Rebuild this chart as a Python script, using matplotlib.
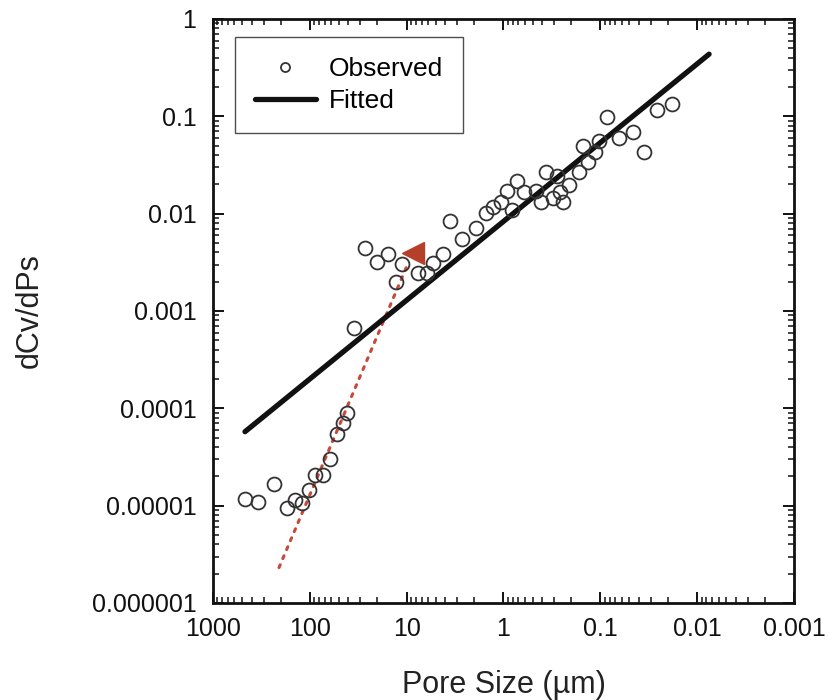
import matplotlib
matplotlib.use("Agg")
import matplotlib.pyplot as plt
from matplotlib.ticker import LogLocator, FixedLocator, FixedFormatter, NullFormatter

plt.rcParams['font.family'] = ['Liberation Sans', 'DejaVu Sans']

# Observed pore-size distribution (pore size in µm, dCv/dPs)
pore_size = [467, 343, 234, 172, 142, 120, 102, 88.3, 73.1, 61.8, 52.3, 45.4, 41.3,
             34.9, 26.9, 20.2, 15.6, 12.9, 11.2, 7.62, 6.15, 5.33, 4.21, 3.56, 2.68,
             1.92, 1.51, 1.28, 1.06, 0.918, 0.815, 0.724, 0.613, 0.460, 0.409, 0.363,
             0.307, 0.279, 0.260, 0.242, 0.210, 0.166, 0.151, 0.134, 0.113, 0.103,
             0.0851, 0.0640, 0.0458, 0.0353, 0.0259, 0.0181]
dcv_dps = [1.17e-5, 1.09e-5, 1.67e-5, 9.4e-6, 1.14e-5, 1.06e-5, 1.45e-5, 2.07e-5, 2.07e-5,
           3.03e-5, 5.49e-5, 7.13e-5, 9.05e-5, 6.69e-4, 4.39e-3, 3.22e-3, 3.89e-3, 2.0e-3,
           3.07e-3, 2.48e-3, 2.48e-3, 3.14e-3, 3.89e-3, 8.34e-3, 5.44e-3, 7.06e-3, 1.01e-2,
           1.16e-2, 1.31e-2, 1.71e-2, 1.08e-2, 2.16e-2, 1.66e-2, 1.71e-2, 1.31e-2, 2.68e-2,
           1.44e-2, 2.44e-2, 1.66e-2, 1.31e-2, 1.97e-2, 2.68e-2, 4.98e-2, 3.40e-2, 4.31e-2,
           5.61e-2, 9.93e-2, 6.02e-2, 6.95e-2, 4.31e-2, 0.115, 0.135]

# Fitted power law (end points)
fit_x = [467, 0.00752]
fit_y = [5.75e-5, 0.435]

# Steep trend in the coarse-pore range and its arrow head
trend_x = [208, 10.1]
trend_y = [2.31e-6, 2.79e-3]
arrow_x = [8.6]
arrow_y = [3.9e-3]

x_ticks = [1000, 100, 10, 1, 0.1, 0.01, 0.001]
x_labels = ['1000', '100', '10', '1', '0.1', '0.01', '0.001']
y_ticks = [1e-6, 1e-5, 1e-4, 1e-3, 1e-2, 1e-1, 1]
y_labels = ['0.000001', '0.00001', '0.0001', '0.001', '0.01', '0.1', '1']

fig = plt.figure(figsize=(8.29, 7.0), dpi=100)
ax = fig.add_axes([0.2569, 0.1386, 0.7008, 0.8343])

ax.plot(trend_x, trend_y, linestyle=(0, (1, 2.2)), color='#c8483a', linewidth=2.2,
        dash_capstyle='round', zorder=2)
ax.plot(arrow_x, arrow_y, marker='<', markersize=16, color='#b5402a',
        linestyle='none', zorder=3)
ax.plot(fit_x, fit_y, color='#111111', linewidth=3.8, solid_capstyle='round',
        label='Fitted', zorder=2)
ax.plot(pore_size, dcv_dps, linestyle='none', marker='o', markersize=10,
        markerfacecolor='none', markeredgecolor='#333333', markeredgewidth=1.3,
        label='Observed', zorder=4)

ax.set_xscale('log')
ax.set_yscale('log')
ax.set_xlim(1000, 0.001)
ax.set_ylim(1e-6, 1)

ax.xaxis.set_major_locator(FixedLocator(x_ticks))
ax.xaxis.set_major_formatter(FixedFormatter(x_labels))
ax.yaxis.set_major_locator(FixedLocator(y_ticks))
ax.yaxis.set_major_formatter(FixedFormatter(y_labels))
ax.xaxis.set_minor_locator(LogLocator(base=10, subs=range(2, 10), numticks=20))
ax.yaxis.set_minor_locator(LogLocator(base=10, subs=range(2, 10), numticks=20))
ax.xaxis.set_minor_formatter(NullFormatter())
ax.yaxis.set_minor_formatter(NullFormatter())

ax.tick_params(which='both', direction='in', top=True, right=True,
               labelsize=18, colors='#111111')
ax.tick_params(which='major', length=8, width=1.4)
ax.tick_params(which='minor', length=4.5, width=1.1)
ax.tick_params(axis='x', which='major', pad=10)
ax.tick_params(axis='y', which='major', pad=12)
for s in ax.spines.values():
    s.set_linewidth(2.0)
    s.set_color('#111111')

ax.set_xlabel('Pore Size (µm)', fontsize=22, labelpad=21, color='#222222')
ax.set_ylabel('dCv/dPs', fontsize=22, labelpad=34, color='#222222')

handles, labels = ax.get_legend_handles_labels()
order = [labels.index('Observed'), labels.index('Fitted')]
leg = ax.legend([handles[i] for i in order], [labels[i] for i in order],
                loc='upper left', bbox_to_anchor=(0.038, 0.969), fontsize=19,
                frameon=True, fancybox=False, edgecolor='#222222',
                borderpad=0.75, handlelength=2.3, handletextpad=0.5,
                labelspacing=0.3, borderaxespad=0, markerscale=0.65)
leg.get_frame().set_linewidth(1.0)

fig.savefig('out.png', dpi=100, facecolor='white')
